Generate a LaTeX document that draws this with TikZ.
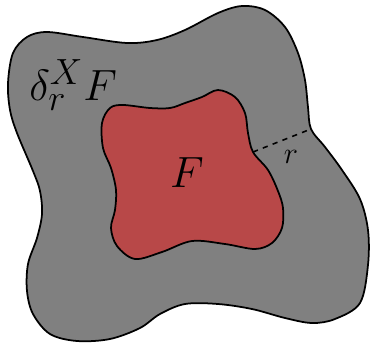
\documentclass[tikz,border=0pt]{standalone}
\usetikzlibrary{positioning}
\definecolor{nbhdfill}{RGB}{128,128,128}
\definecolor{setfill}{RGB}{184,72,72}

\begin{document}
\begin{tikzpicture}[
  x=0.02cm, y=-0.02cm,
  region/.style={draw=black, line width=1pt, line join=round},
  lbl/.style={inner sep=0pt, font=\Huge},
  radius/.style={draw=black, line width=0.9pt, dashed}
]
\useasboundingbox (0,0) rectangle (370,343);

% ---- outer region (the r-neighbourhood)
\path[region, fill=nbhdfill] plot[smooth cycle, tension=0.55] coordinates {
  (8,83) (13,53) (27,37) (47,32) (83,37) (127,43) (157,40) (185,30)
  (218,13) (242,6) (265,10) (285,27) (298,53) (305,80) (308,107) (311,129)
  (325,147) (342,170) (360,199) (368,230) (368,265) (360,303) (335,319)
  (312,323) (285,318) (252,309) (218,304) (185,304) (160,314) (140,328)
  (110,339) (77,341) (50,334) (33,314) (27,291) (28,264) (37,238) (42,214)
  (40,191) (33,171) (17,133) (10,110)};

% ---- inner set F
\path[region, fill=setfill] plot[smooth cycle, tension=0.55] coordinates {
  (102,123) (110,108) (123,105) (150,108) (170,108) (185,103) (202,97)
  (218,90) (235,97) (245,113) (248,133) (253,152) (268,170) (278,191)
  (283,208) (282,228) (272,243) (255,249) (225,244) (192,241) (162,252)
  (135,259) (117,246) (111,228) (115,210) (116,190) (111,168) (103,148)};

% ---- radius
\coordinate (rin) at (253,152);
\coordinate (rout) at (311,129);
\draw[radius] (rin) -- (rout);

% ---- labels
\node[lbl] (setF) at (187,173) {$F$};
\node[lbl, anchor=base west] (nbhd) at (29,100) {$\delta_r^X F$};
\node[inner sep=0pt, font=\LARGE] (rlab) at (291,157) {$r$};
\end{tikzpicture}
\end{document}
